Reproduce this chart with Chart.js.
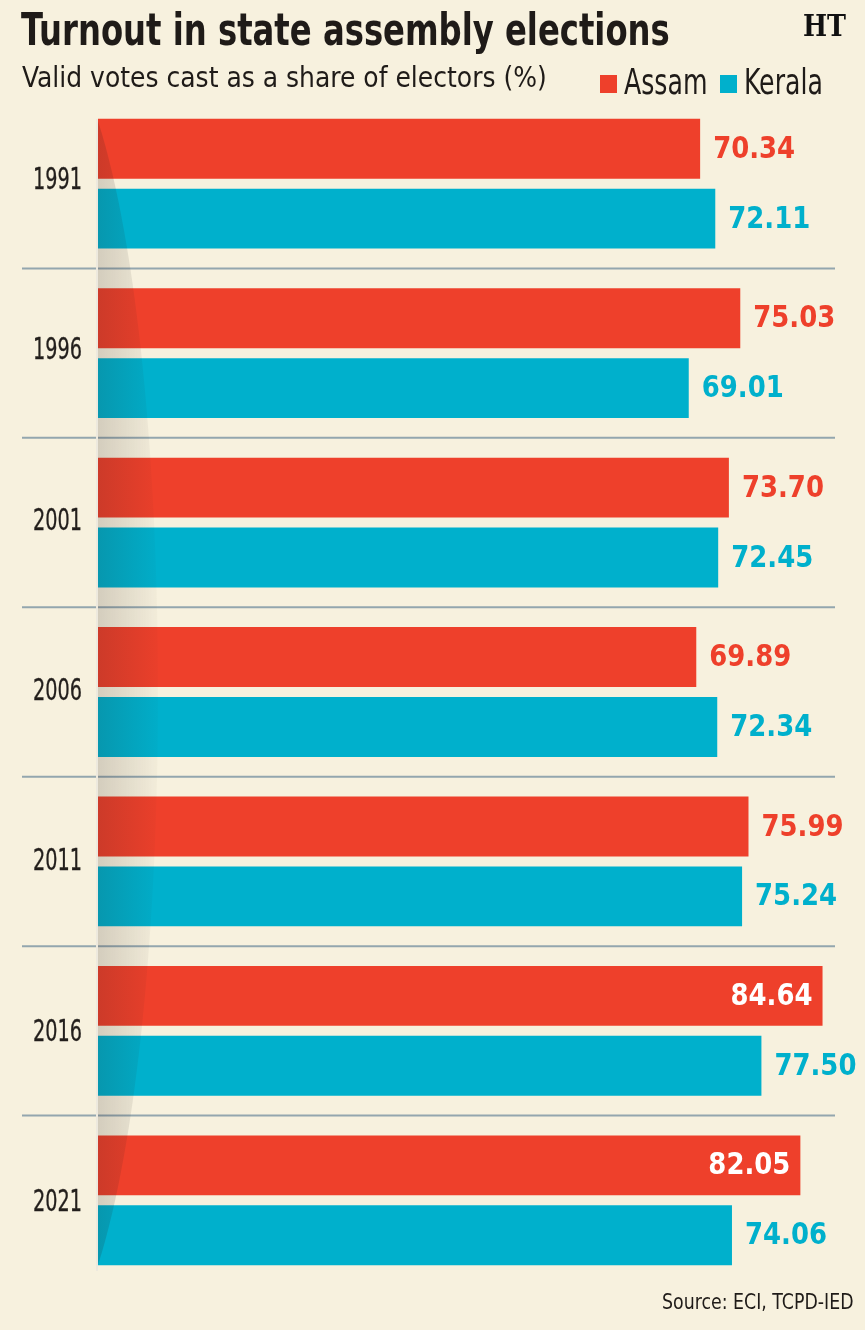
<!DOCTYPE html>
<html>
<head>
<meta charset="utf-8">
<script src="https://cdn.jsdelivr.net/npm/chart.js@4"></script>
<style>
  html, body { margin: 0; padding: 0; background: #f7f1de; }
  #wrap { position: relative; width: 865px; height: 1330px; overflow: hidden; background: #f7f1de; }
  #chart { position: absolute; left: 0; top: 0; }
  .txt { position: absolute; white-space: nowrap; color: #1f1b18; font-family: 'DejaVu Sans Condensed', sans-serif; transform-origin: left top; }
  #title { left: 21px; top: 4px; font-size: 44px; font-weight: bold; transform: scaleX(0.815); }
  #sub { left: 22px; top: 60px; font-size: 29px; transform: scaleX(0.96); }
  .sw { position: absolute; width: 17px; height: 18px; top: 75px; }
  .leg { top: 62px; font-size: 35px; transform: scaleX(0.8); }
  #ht { left: 803px; top: 8px; font-family: 'DejaVu Serif', serif; font-weight: bold; font-size: 30px; color: #111; transform: scaleX(0.85); }
  #src { left: 662px; top: 1290px; font-size: 21px; transform: scaleX(0.92); }
</style>
</head>
<body>
<div id="wrap">
  <canvas id="chart" width="865" height="1330"></canvas>
  <div class="txt" id="title">Turnout in state assembly elections</div>
  <div class="txt" id="sub">Valid votes cast as a share of electors (%)</div>
  <div class="sw" style="left:600px;background:#ee402b"></div>
  <div class="txt leg" style="left:624px">Assam</div>
  <div class="sw" style="left:720px;background:#00b0cc"></div>
  <div class="txt leg" style="left:744px">Kerala</div>
  <div class="txt" id="ht">HT</div>
  <div class="txt" id="src">Source: ECI, TCPD-IED</div>
</div>
<script>
// values
const years = ['1991', '1996', '2001', '2006', '2011', '2016', '2021'];
const assam = [70.34, 75.03, 73.70, 69.89, 75.99, 84.64, 82.05];
const kerala = [72.11, 69.01, 72.45, 72.34, 75.24, 77.50, 74.06];

const RED = '#ee402b';
const CYAN = '#00b0cc';

// separators, shadow near the axis, condensed year labels, value labels
const decor = {
  id: 'decor',
  beforeDatasetsDraw(chart) {
    const ctx = chart.ctx, y = chart.scales.y;
    ctx.save();
    ctx.strokeStyle = '#93a6ae';
    ctx.lineWidth = 2;
    for (let i = 0; i < years.length - 1; i++) {
      const py = (y.getPixelForTick(i) + y.getPixelForTick(i + 1)) / 2;
      ctx.beginPath();
      ctx.moveTo(22, py);
      ctx.lineTo(835, py);
      ctx.stroke();
    }
    // year labels, squeezed like the condensed original
    ctx.fillStyle = '#231f1c';
    ctx.strokeStyle = '#231f1c';
    ctx.lineWidth = 0.35;
    ctx.font = "31px 'DejaVu Sans Condensed', sans-serif";
    ctx.textAlign = 'right';
    ctx.textBaseline = 'middle';
    years.forEach((yr, i) => {
      ctx.save();
      ctx.translate(82, y.getPixelForTick(i) - 3 + i);
      ctx.scale(0.69, 1);
      ctx.fillText(yr, 0, 0);
      ctx.strokeText(yr, 0, 0);
      ctx.restore();
    });
    ctx.restore();
  },
  afterDatasetsDraw(chart) {
    const ctx = chart.ctx, a = chart.chartArea;
    const top = a.top + 22, bot = a.bottom - 20;
    ctx.save();
    ctx.beginPath();
    ctx.moveTo(a.left, top);
    ctx.bezierCurveTo(a.left + 80, top + 250, a.left + 80, bot - 250, a.left, bot);
    ctx.closePath();
    const g = ctx.createLinearGradient(a.left, 0, a.left + 60, 0);
    g.addColorStop(0, 'rgba(40,30,30,0.17)');
    g.addColorStop(1, 'rgba(40,30,30,0.02)');
    ctx.fillStyle = g;
    ctx.fill();
    ctx.strokeStyle = '#ede9de';
    ctx.lineWidth = 2;
    ctx.beginPath();
    ctx.moveTo(a.left - 1, a.top + 20);
    ctx.lineTo(a.left - 1, a.bottom - 14);
    ctx.stroke();
    ctx.restore();
  },
  afterDraw(chart) {
    const ctx = chart.ctx;
    ctx.save();
    ctx.font = "bold 31px 'DejaVu Sans Condensed', sans-serif";
    ctx.textBaseline = 'middle';
    const sx = 0.93;
    chart.data.datasets.forEach((ds, di) => {
      chart.getDatasetMeta(di).data.forEach((bar, i) => {
        const txt = ds.data[i].toFixed(2);
        const w = ctx.measureText(txt).width * sx;
        ctx.save();
        if (bar.x + 13 + w > chart.width - 2) {
          ctx.fillStyle = '#ffffff';
          ctx.textAlign = 'right';
          ctx.translate(bar.x - 10, bar.y + 1);
        } else {
          ctx.fillStyle = ds.backgroundColor;
          ctx.textAlign = 'left';
          ctx.translate(bar.x + 13, bar.y + 1);
        }
        ctx.scale(sx, 1);
        ctx.fillText(txt, 0, 0);
        ctx.restore();
      });
    });
    ctx.restore();
  }
};

new Chart(document.getElementById('chart'), {
  type: 'bar',
  data: {
    labels: years,
    datasets: [
      { label: 'Assam', data: assam, backgroundColor: RED },
      { label: 'Kerala', data: kerala, backgroundColor: CYAN }
    ]
  },
  options: {
    indexAxis: 'y',
    responsive: false,
    animation: false,
    events: [],
    datasets: { bar: { categoryPercentage: 0.825, barPercentage: 0.857 } },
    layout: { padding: { top: 99, bottom: 45, left: 0, right: 0 } },
    plugins: { legend: { display: false }, tooltip: { enabled: false } },
    scales: {
      x: { display: false, min: 0, max: 89.6 },
      y: {
        grid: { display: false },
        border: { display: false },
        ticks: { display: false },
        afterFit(s) { s.width = 98; }
      }
    }
  },
  plugins: [decor]
});
</script>
</body>
</html>
